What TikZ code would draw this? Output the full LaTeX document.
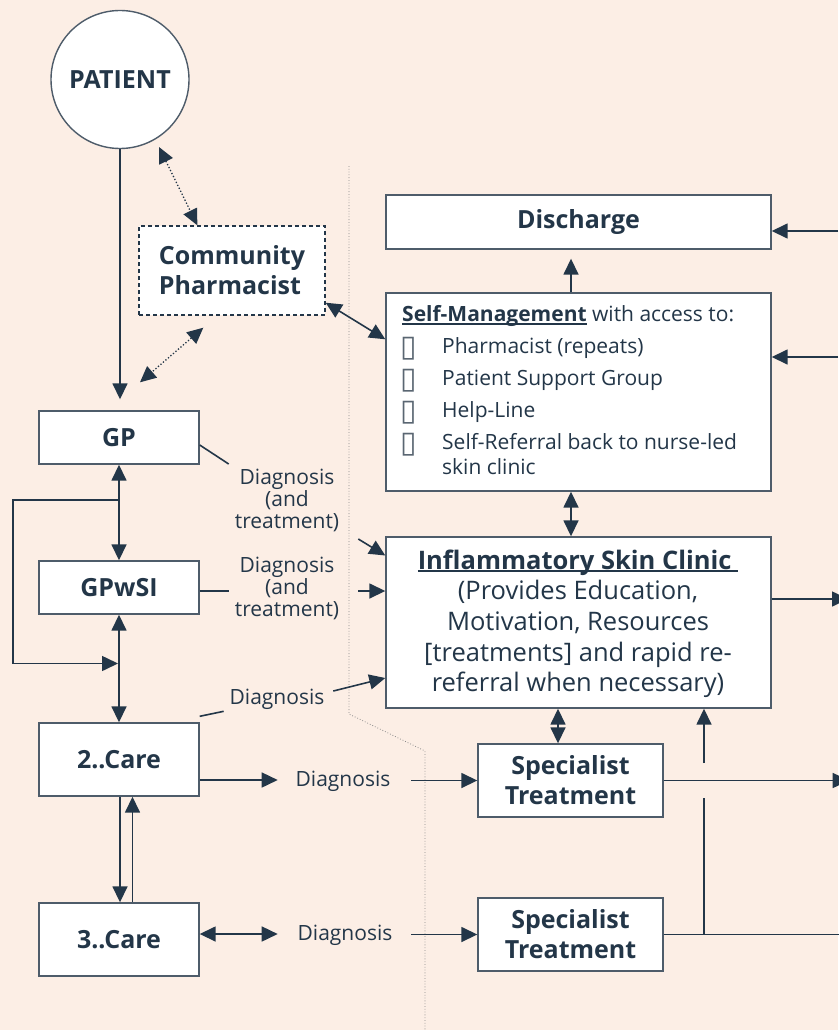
\documentclass[tikz,border=0pt]{standalone}
\usepackage{fontspec}
\setmainfont{Open Sans}
\newfontfamily\symfont{DejaVu Sans}
\usetikzlibrary{arrows.meta,calc}
\definecolor{bg}{HTML}{FCEEE5}
\definecolor{ink}{HTML}{233648}
\definecolor{edgec}{HTML}{4E5C6A}
\definecolor{divc}{HTML}{8A8A8A}
\definecolor{chkc}{HTML}{5A6672}
\newcommand\ulx[1]{\setbox0\hbox{#1}\rlap{\rule[-3pt]{\wd0}{1.7pt}}\box0\relax}
\begin{document}
\begin{tikzpicture}[x=1pt,y=-1pt,
  box/.style={draw=edgec, line width=1.4pt, fill=white, text=ink, font=\bfseries\fontsize{25}{30}\selectfont, inner sep=0pt, align=center},
  conn/.style={draw=ink, line width=1.6pt},
  arr/.style={conn, -{Triangle[length=16pt,width=15pt]}},
  dbl/.style={conn, {Triangle[length=16pt,width=15pt]}-{Triangle[length=16pt,width=15pt]}},
  dotarr/.style={draw=ink, line width=1.3pt, dotted, {Triangle[length=16pt,width=15pt]}-{Triangle[length=16pt,width=15pt]}},
  lbl/.style={text=ink, font=\fontsize{21}{22}\selectfont, align=center, inner sep=0pt},
  smt/.style={text=ink, font=\fontsize{21}{25}\selectfont, inner sep=0pt},
  chk/.style={text=chkc, font=\symfont\fontsize{30}{32}\selectfont, inner sep=0pt}
]
\fill[bg] (0,0) rectangle (838,1030);
\useasboundingbox (0,0) rectangle (838,1030);

% divider
\draw[divc, line width=0.8pt, dotted] (349,166) -- (349,714) -- (425,751) -- (425,1030);

% nodes
\node[box, circle, minimum size=138pt] (patient) at (120,79.5) {PATIENT};
\node[box, draw=ink, dashed, dash pattern=on 4pt off 3pt, minimum width=186pt, minimum height=89pt, align=left] (cp) at (232,270.5) {Community\\Pharmacist};
\node[box, minimum width=160pt, minimum height=53pt] (gp) at (119,437.5) {GP};
\node[box, minimum width=160pt, minimum height=53pt] (gpwsi) at (119,587.5) {GPwSI};
\node[box, minimum width=160pt, minimum height=73pt] (care2) at (119,759.5) {2..Care};
\node[box, minimum width=160pt, minimum height=73pt] (care3) at (119,939.5) {3..Care};
\node[box, minimum width=385pt, minimum height=54pt] (discharge) at (578.5,222) {Discharge};
\node[box, minimum width=385pt, minimum height=198pt] (sm) at (578.5,392) {};
\node[box, minimum width=385pt, minimum height=171pt] (isc) at (578.5,622.5) {};
\node[box, minimum width=185pt, minimum height=73pt] (st1) at (570.5,780.5) {Specialist\\Treatment};
\node[box, minimum width=185pt, minimum height=73pt] (st2) at (570.5,934.5) {Specialist\\Treatment};

% self-management contents
\node[smt, anchor=base west] (smh) at (402,321.7) {\ulx{\textbf{Self-Management}} with access to:};
\node[chk, anchor=base west] (c1) at (400,356) {▯};
\node[chk, anchor=base west] (c2) at (400,388) {▯};
\node[chk, anchor=base west] (c3) at (400,420) {▯};
\node[chk, anchor=base west] (c4) at (400,452) {▯};
\node[smt, anchor=base west] (i1) at (442,353.3) {Pharmacist (repeats)};
\node[smt, anchor=base west] (i2) at (442,385) {Patient Support Group};
\node[smt, anchor=base west] (i3) at (442,417) {Help-Line};
\node[smt, anchor=north west, align=left] (i4) at (442,433.5) {Self-Referral back to nurse-led\\skin clinic};

% inflammatory skin clinic contents
\node[text=ink, font=\fontsize{25.5}{30.7}\selectfont, align=center, inner sep=0pt] (isct) at (578,623.7)
  {\ulx{\textbf{Inflammatory Skin Clinic }}\\(Provides Education,\\Motivation, Resources\\{}[treatments] and rapid re-\\referral when necessary)};

% labels
\node[lbl] (l1) at (287,500) {Diagnosis\\(and\\treatment)};
\node[lbl] (l2) at (287,588) {Diagnosis\\(and\\treatment)};
\node[lbl] (l3) at (277,699) {Diagnosis};
\node[lbl] (l4) at (343,781) {Diagnosis};
\node[lbl] (l5) at (345,935) {Diagnosis};

% left column connectors
\draw[arr, shorten >=11pt] (patient.south) -- (patient.south |- gp.north);
\draw[dotarr] ($(patient.center)+(39,67.5)$) -- ($(cp.north west)+(59,0)$);
\draw[dotarr] ($(cp.south west)+(65,12)$) -- ($(gp.north)+(21,-28)$);
\draw[dbl] ($(cp.south east)+(0,-13)$) -- ($(sm.north west)+(0,47)$);
\draw[dbl] (gp.south) -- (gpwsi.north);
\draw[dbl] (gpwsi.south) -- (care2.north);
\coordinate (lp1) at (119,500);
\coordinate (lp2) at (13,500);
\coordinate (lp3) at (13,663.5);
\coordinate (lp4) at (118,663.5);
\draw[arr] (lp1) -- (lp2) -- (lp3) -- (lp4);
\draw[arr] ($(care2.south)+(1,0)$) -- ($(care3.north)+(1,0)$);
\draw[arr] ($(care3.north)+(13.5,0)$) -- ($(care2.south)+(13.5,0)$);

% diagnosis connectors
\draw[conn] ($(gp.east)+(0,7.5)$) -- ($(gp.east)+(29,26.5)$);
\draw[arr] ($(isc.west)+(-27,-83.5)$) -- ($(isc.west)+(0,-67)$);
\draw[conn] ($(gpwsi.east)+(0,3.5)$) -- ($(gpwsi.east)+(29,3.5)$);
\draw[arr] ($(isc.west)+(-27,-31.5)$) -- ($(isc.west)+(0,-31.5)$);
\draw[conn] ($(care2.north east)+(0,-6)$) -- ($(care2.north east)+(24,-11)$);
\draw[arr] ($(isc.west)+(-52,68.5)$) -- ($(isc.west)+(0,55.5)$);
\draw[arr] ($(care2.east)+(0,20.5)$) -- ++(78,0);
\draw[arr] ($(st1.west)+(-66,0)$) -- (st1.west);
\draw[dbl] ($(care3.east)+(0,-5.5)$) -- ++(78,0);
\draw[arr] ($(st2.west)+(-66,0)$) -- (st2.west);

% right column connectors
\draw[arr, shorten >=9pt] ($(sm.north)+(-7.5,0)$) -- ($(discharge.south)+(-7.5,0)$);
\draw[dbl] ($(sm.south)+(-7.5,0)$) -- ($(isc.north)+(-7.5,0)$);
\draw[dbl] ($(st1.north)+(-12.5,0)$) coordinate (q1) -- (q1 |- isc.south);
\coordinate (r1) at (838,231);
\coordinate (r2) at (838,357);
\draw[arr] (r1) -- (r1 -| discharge.east);
\draw[arr] (r2) -- (r2 -| sm.east);
\coordinate (r3) at (848,599);
\draw[arr] (isc.east |- r3) -- (r3);
\draw[arr] (st1.east) -- ++(185,0);
\draw[conn] (st2.east) -- ++(185,0);
\coordinate (j1) at (704,934.5);
\coordinate (j2) at (704,798);
\coordinate (j3) at (704,763);
\draw[conn] (j1) -- (j2);
\draw[arr] (j3) -- (j3 |- isc.south);
\end{tikzpicture}
\end{document}
